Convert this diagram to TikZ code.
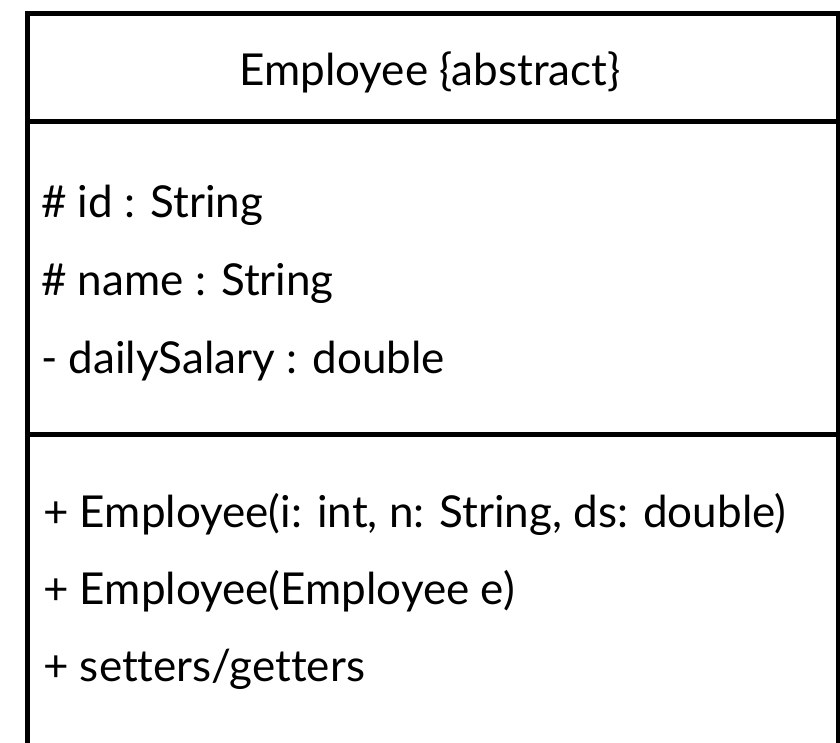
\documentclass[tikz,border=0pt]{standalone}
\usepackage{fontspec}
\setmainfont{Lato}[Ligatures={NoCommon}]
\begin{document}
\begin{tikzpicture}[x=1pt,y=-1pt,
  frame/.style={line width=5pt,black},
  member/.style={anchor=base west,inner sep=0pt,font=\fontsize{44}{52}\selectfont},
  title/.style={anchor=base,inner sep=0pt,font=\fontsize{44}{52}\selectfont}]
  \useasboundingbox (0,0) rectangle (840,742);
  \clip (0,0) rectangle (840,742);
  % class box (open at the bottom edge)
  \draw[frame] (27.5,760) -- (27.5,13.5) -- (838.5,13.5) -- (838.5,760);
  \draw[frame] (27.5,121.5) -- (838.5,121.5);
  \draw[frame] (27.5,434.5) -- (838.5,434.5);
  % class name
  \node[title] (cname) at (430,85) {Employee \{abstract\}};
  % attributes
  \node[member] (a1) at (41,217) {\# id : String};
  \node[member] (a2) at (41,295) {\# name : String};
  \node[member] (a3) at (41,373) {- dailySalary : double};
  % operations
  \node[member] (m1) at (43,527) {+ Employee(i: int, n: String, ds: double)};
  \node[member] (m2) at (43,604) {+ Employee(Employee e)};
  \node[member] (m3) at (43,681) {+ setters/getters};
\end{tikzpicture}
\end{document}
